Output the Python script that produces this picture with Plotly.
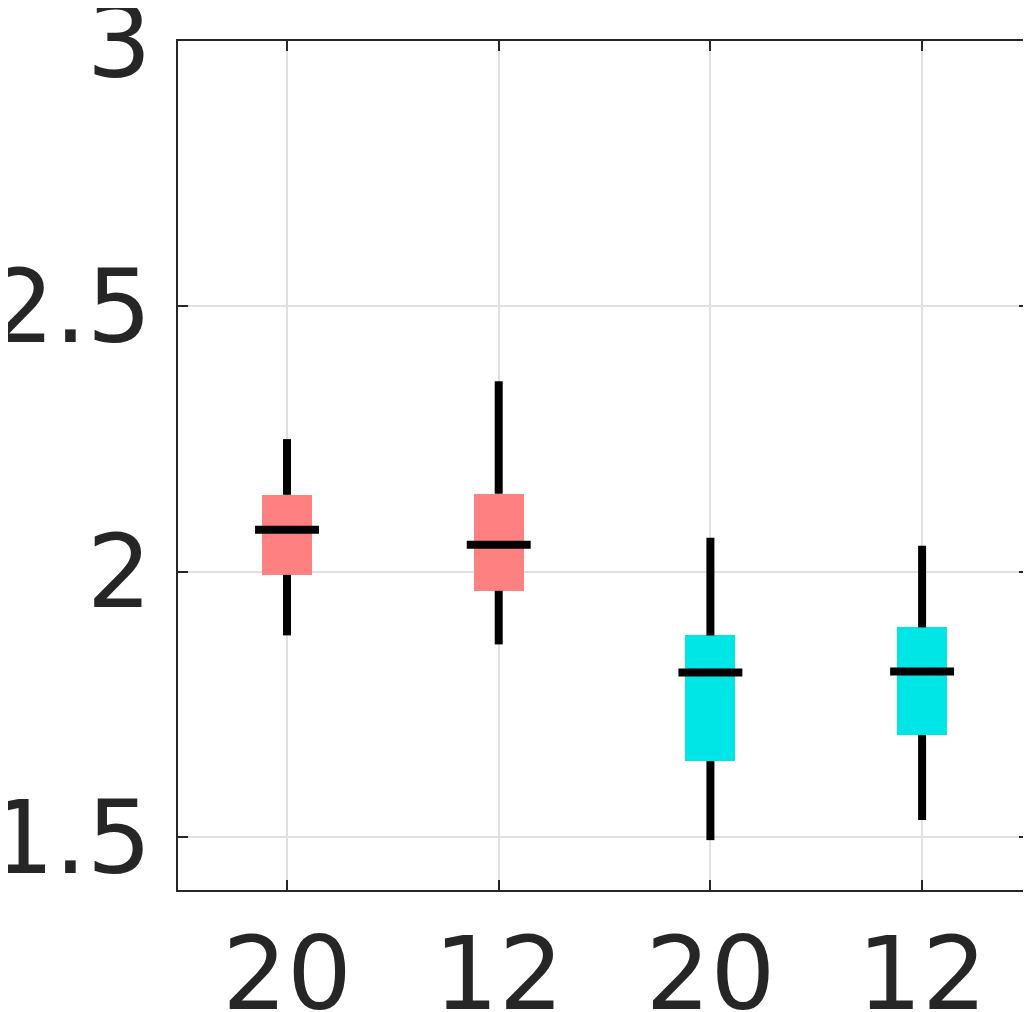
import plotly.graph_objects as go

# group labels and box stats
labels = ["20", "12", "20", "12"]
positions = [1, 2, 3, 4]
whisker_low = [1.880, 1.863, 1.494, 1.532]
q1 = [1.994, 1.964, 1.643, 1.692]
median = [2.079, 2.051, 1.810, 1.812]
q3 = [2.145, 2.147, 1.880, 1.895]
whisker_high = [2.250, 2.359, 2.064, 2.049]
colors = ["#ff8080", "#ff8080", "#00e6e6", "#00e6e6"]

BOX_W = 0.236
MED_HALF = 0.151
INK = "#262626"

fig = go.Figure()

# whiskers: two segments so they don't run through the box
wx, wy = [], []
for i, p in enumerate(positions):
    wx += [p, p, None, p, p, None]
    wy += [q3[i], whisker_high[i], None, whisker_low[i], q1[i], None]
fig.add_trace(go.Scatter(x=wx, y=wy, mode="lines",
                         line=dict(color="black", width=8),
                         hoverinfo="skip", showlegend=False))

# boxes
fig.add_trace(go.Bar(x=positions, y=[a - b for a, b in zip(q3, q1)], base=q1,
                     width=BOX_W, marker=dict(color=colors, line=dict(width=0)),
                     showlegend=False))

# medians
mx, my = [], []
for i, p in enumerate(positions):
    mx += [p - MED_HALF, p + MED_HALF, None]
    my += [median[i], median[i], None]
fig.add_trace(go.Scatter(x=mx, y=my, mode="lines",
                         line=dict(color="black", width=8),
                         hoverinfo="skip", showlegend=False))

axis_style = dict(showline=True, mirror="ticks", linecolor=INK, linewidth=2,
                  ticks="inside", ticklen=10, tickwidth=2, tickcolor=INK,
                  showgrid=True, gridcolor="#e0e0e0", gridwidth=2,
                  zeroline=False, automargin=False, ticklabeloverflow="allow",
                  tickfont=dict(family="DejaVu Sans", size=102, color=INK))

fig.update_xaxes(range=[0.485, 4.505], tickvals=positions, ticktext=labels,
                 ticklabelstandoff=-5, **axis_style)
fig.update_yaxes(range=[1.4, 3.0005], tickvals=[1.5, 2, 2.5, 3],
                 ticktext=["1.5", "2", "2.5", "3"], ticklabelstandoff=4,
                 **axis_style)

# page body has an 8px margin, so the figure is 8px smaller on each side
fig.update_layout(width=1023, height=1004,
                  margin=dict(l=170, r=2, t=33, b=122),
                  plot_bgcolor="white", paper_bgcolor="white",
                  bargap=0, font=dict(family="DejaVu Sans", color=INK))

fig.write_html("out.html")
